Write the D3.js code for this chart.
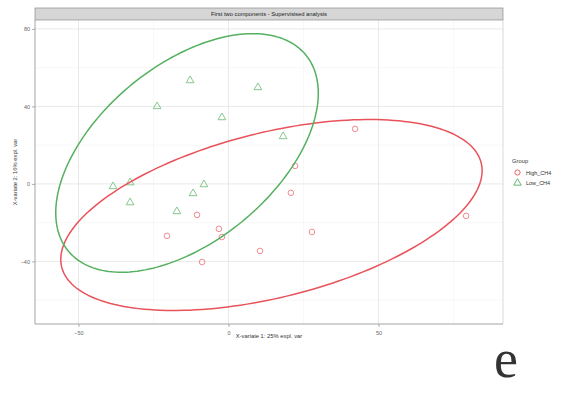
<!DOCTYPE html>
<html>
<head>
<meta charset="utf-8">
<script src="https://cdn.jsdelivr.net/npm/d3@7"></script>
<style>
  html, body { margin: 0; padding: 0; background: #fff; }
  svg { display: block; font-family: "Liberation Sans", Arial, sans-serif; }
</style>
</head>
<body>
<svg id="chart" width="568" height="412"></svg>
<script>
// Sample scores on the first two components, by group
const groups = ["High_CH4", "Low_CH4"];
const highX = [42.2, 22.2, 20.8, -10.5, -3.2, -20.5, -2.2, 27.8, 10.5, -8.8, 79.2];
const highY = [28.4, 9.3, -4.6, -16.0, -23.2, -26.8, -27.4, -24.8, -34.6, -40.3, -16.5];
const lowX = [-12.8, 9.8, -23.8, -2.2, 18.2, -38.5, -32.8, -8.2, -11.8, -32.8, -17.2];
const lowY = [53.7, 50.1, 40.3, 34.6, 24.8, -1.0, 1.0, 0.0, -4.6, -9.3, -13.9];
const xTicks = [-50, 0, 50];
const yTicks = [-40, 0, 40, 80];
const xMinor = [-25, 25, 75];
const yMinor = [-60, -20, 20, 60];

const colors = { "High_CH4": "#E8525A", "Low_CH4": "#55B060" };
const pointColors = { "High_CH4": "#EE7E84", "Low_CH4": "#78C282" };

const svg = d3.select("#chart");
const panel = { left: 35, right: 503, top: 20, bottom: 324 };

const x = d3.scaleLinear().domain([-64.5, 91.5]).range([panel.left, panel.right]);
const y = d3.scaleLinear().domain([-72.3, 84.6]).range([panel.bottom, panel.top]);

// Grid
const grid = svg.append("g");
grid.selectAll(".vminor").data(xMinor).join("line")
  .attr("x1", d => x(d)).attr("x2", d => x(d))
  .attr("y1", panel.top).attr("y2", panel.bottom)
  .attr("stroke", "#F3F3F3").attr("stroke-width", 0.6);
grid.selectAll(".hminor").data(yMinor).join("line")
  .attr("y1", d => y(d)).attr("y2", d => y(d))
  .attr("x1", panel.left).attr("x2", panel.right)
  .attr("stroke", "#F3F3F3").attr("stroke-width", 0.6);
grid.selectAll(".vmajor").data(xTicks).join("line")
  .attr("x1", d => x(d)).attr("x2", d => x(d))
  .attr("y1", panel.top).attr("y2", panel.bottom)
  .attr("stroke", "#E6E6E6").attr("stroke-width", 0.9);
grid.selectAll(".hmajor").data(yTicks).join("line")
  .attr("y1", d => y(d)).attr("y2", d => y(d))
  .attr("x1", panel.left).attr("x2", panel.right)
  .attr("stroke", "#E6E6E6").attr("stroke-width", 0.9);

// Panel right edge
svg.append("line")
  .attr("x1", panel.right).attr("x2", panel.right)
  .attr("y1", panel.top).attr("y2", panel.bottom)
  .attr("stroke", "#D0D0D0").attr("stroke-width", 0.8);

// 95% confidence ellipses from group means and covariances
function ellipse(xs, ys) {
  const mx = d3.mean(xs), my = d3.mean(ys);
  const sx = d3.deviation(xs), sy = d3.deviation(ys);
  const n = xs.length;
  let cov = 0;
  for (let i = 0; i < n; i++) cov += (xs[i] - mx) * (ys[i] - my);
  cov /= (n - 1);
  const r = cov / (sx * sy);
  const d = Math.acos(r);
  const t = Math.sqrt(5.991465);
  return d3.range(0, 201).map(i => {
    const a = (i / 200) * 2 * Math.PI;
    return [mx + t * sx * Math.cos(a + d / 2), my + t * sy * Math.cos(a - d / 2)];
  });
}
const line = d3.line().x(d => x(d[0])).y(d => y(d[1])).curve(d3.curveLinear);

const ellipses = [
  { g: "High_CH4", pts: ellipse(highX, highY) },
  { g: "Low_CH4", pts: ellipse(lowX, lowY) }
];
const clip = svg.append("clipPath").attr("id", "panelClip").append("rect")
  .attr("x", panel.left).attr("y", panel.top)
  .attr("width", panel.right - panel.left).attr("height", panel.bottom - panel.top);

// Points
const high = highX.map((v, i) => [v, highY[i]]);
const low = lowX.map((v, i) => [v, lowY[i]]);

svg.append("g").selectAll("circle").data(high).join("circle")
  .attr("cx", d => x(d[0])).attr("cy", d => y(d[1])).attr("r", 2.8)
  .attr("fill", "none").attr("stroke", pointColors["High_CH4"]).attr("stroke-width", 0.9);

const tri = d3.symbol().type(d3.symbolTriangle).size(26);
svg.append("g").selectAll("path").data(low).join("path")
  .attr("transform", d => `translate(${x(d[0])},${y(d[1]) + 0.6})`)
  .attr("d", tri)
  .attr("fill", "none").attr("stroke", pointColors["Low_CH4"]).attr("stroke-width", 0.9);

svg.append("g").attr("clip-path", "url(#panelClip)")
  .selectAll("path").data(ellipses).join("path")
  .attr("d", d => line(d.pts))
  .attr("fill", "none")
  .attr("stroke", d => colors[d.g])
  .attr("stroke-width", 1.5);

// Axes
const xAxis = svg.append("g").attr("transform", `translate(0,${panel.bottom})`)
  .call(d3.axisBottom(x).tickValues(xTicks).tickSize(3).tickSizeOuter(0).tickFormat(d3.format("d")));
const yAxis = svg.append("g").attr("transform", `translate(${panel.left},0)`)
  .call(d3.axisLeft(y).tickValues(yTicks).tickSize(3).tickSizeOuter(0).tickFormat(d3.format("d")));
[xAxis, yAxis].forEach(a => {
  a.select(".domain").attr("stroke", "#9A9A9A").attr("stroke-width", 0.9);
  a.selectAll(".tick line").attr("stroke", "#9A9A9A").attr("stroke-width", 0.8);
  a.selectAll(".tick text").attr("fill", "#666").attr("font-size", 5.5)
    .attr("font-family", "'Liberation Sans', Arial, sans-serif");
});
xAxis.select(".domain").attr("d", `M${panel.left},0H${panel.right}`);
yAxis.select(".domain").attr("d", `M0,${panel.top}V${panel.bottom}`);
xAxis.selectAll(".tick text").attr("dy", "0.9em");
yAxis.selectAll(".tick text").attr("x", -5);

// Strip with title
svg.append("rect").attr("x", panel.left).attr("y", 8)
  .attr("width", panel.right - panel.left).attr("height", 12)
  .attr("fill", "#D6D6D6").attr("stroke", "#8C8C8C").attr("stroke-width", 0.7);
svg.append("text").attr("x", (panel.left + panel.right) / 2).attr("y", 16.2)
  .attr("text-anchor", "middle").attr("font-size", 5.8).attr("fill", "#222")
  .text("First two components - Supervisised analysis");

// Axis titles
svg.append("text").attr("x", (panel.left + panel.right) / 2).attr("y", 338)
  .attr("text-anchor", "middle").attr("font-size", 5.8).attr("fill", "#333")
  .text("X-variate 1: 25% expl. var");
svg.append("text")
  .attr("transform", `translate(17,${(panel.top + panel.bottom) / 2}) rotate(-90)`)
  .attr("text-anchor", "middle").attr("font-size", 5.8).attr("fill", "#333")
  .text("X-variate 2: 16% expl. var");

// Legend
const legend = svg.append("g");
legend.append("text").attr("x", 512).attr("y", 163).attr("font-size", 5.8).attr("fill", "#333").text("Group");
groups.forEach((g, i) => {
  const ly = 172.5 + i * 10;
  if (g === "High_CH4") {
    legend.append("circle").attr("cx", 517.5).attr("cy", ly).attr("r", 2.6)
      .attr("fill", "none").attr("stroke", colors[g]).attr("stroke-width", 0.9);
  } else {
    legend.append("path").attr("transform", `translate(517.5,${ly + 0.5})`)
      .attr("d", d3.symbol().type(d3.symbolTriangle).size(24))
      .attr("fill", "none").attr("stroke", colors[g]).attr("stroke-width", 0.9);
  }
  legend.append("text").attr("x", 526).attr("y", ly + 2).attr("font-size", 5.5)
    .attr("fill", "#333").text(g);
});

// Panel letter
svg.append("text").attr("x", 506).attr("y", 377).attr("text-anchor", "middle")
  .attr("font-family", "'Liberation Serif', 'Times New Roman', serif")
  .attr("font-size", 54).attr("fill", "#333").text("e");
</script>
</body>
</html>
